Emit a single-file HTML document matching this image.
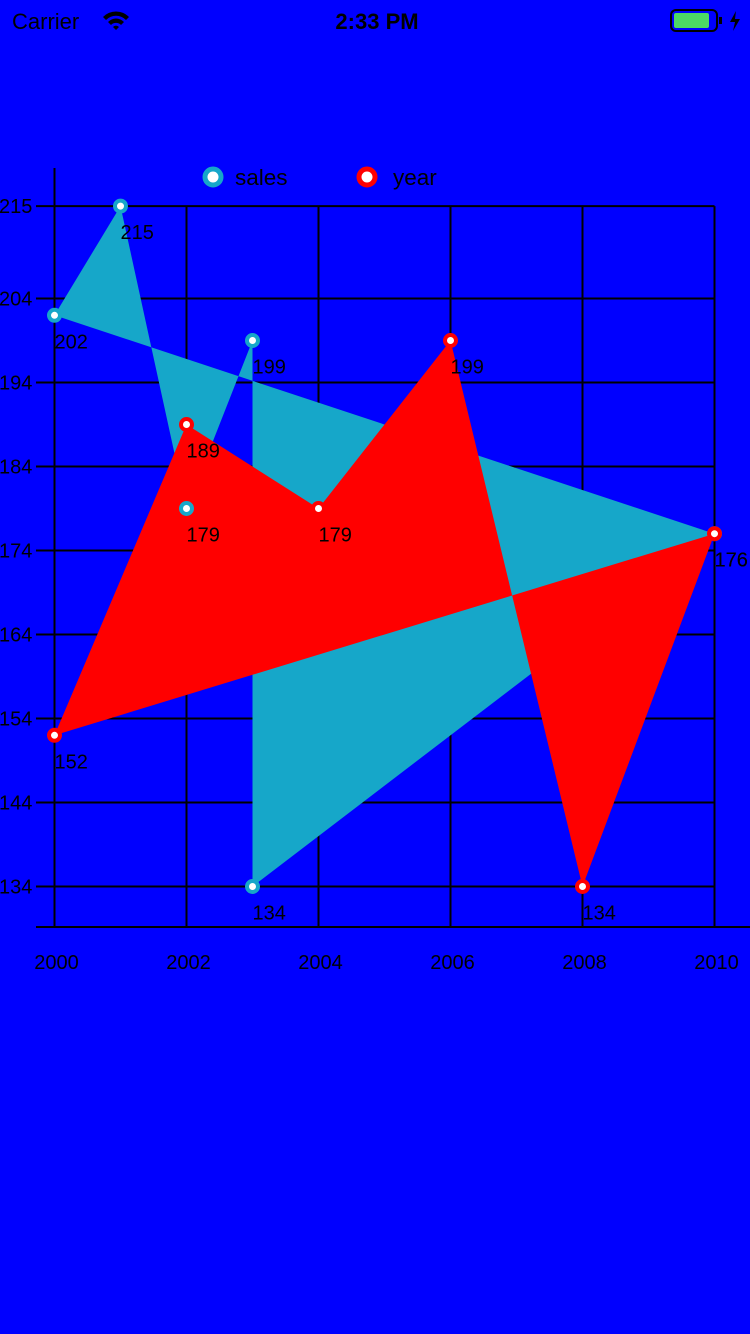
<!DOCTYPE html>
<html><head><meta charset="utf-8">
<style>
html,body{margin:0;padding:0;background:#0000ff;width:750px;height:1334px;overflow:hidden;font-family:"Liberation Sans",sans-serif;}
svg{position:absolute;left:0;top:0;}
</style></head>
<body>
<svg id="c" width="750" height="1334">
  <g>
    <text x="12" y="29" font-size="22" fill="#000">Carrier</text>
    <path d="M103 17 a18 18 0 0 1 26 0 l-3 3 a14 14 0 0 0 -20 0z M108 22 a11 11 0 0 1 16 0 l-3 3 a7 7 0 0 0 -10 0z M113 27 l3 3 3 -3 a4 4 0 0 0 -6 0z" fill="#000"/>
    <text x="377" y="29" font-size="22" font-weight="bold" text-anchor="middle" fill="#000">2:33 PM</text>
    <rect x="671" y="10" width="46" height="21" rx="5" fill="none" stroke="#000" stroke-width="2"/>
    <rect x="674" y="13" width="35" height="15" rx="2" fill="#4cd964"/>
    <rect x="719" y="17" width="3" height="7" fill="#000"/>
    <path d="M736 11 l-6 11 h5 l-2 9 7 -12 h-5z" fill="#000"/>
  </g>
  <g id="grid"></g>
  <g id="areas"></g>
  <g id="marks"></g>
  <g id="legend">
    <circle cx="213" cy="177" r="8" fill="#fff" stroke="#16a7c9" stroke-width="5"/>
    <text x="235" y="185" font-size="22.5" fill="#000">sales</text>
    <circle cx="367" cy="177" r="8" fill="#fff" stroke="#ff0000" stroke-width="5"/>
    <text x="393" y="185" font-size="22.5" fill="#000">year</text>
  </g>
</svg>
<script>
const xTicks = [2000,2002,2004,2006,2008,2010];
const yTicks = [134,144,154,164,174,184,194,204,215];
const salesX = [2000,2001,2002,2003,2003,2010];
const salesY = [202,215,179,199,134,176];
const yearX = [2000,2002,2004,2006,2008,2010];
const yearY = [152,189,179,199,134,176];

const NS='http://www.w3.org/2000/svg';
function X(v){return 54.5+(v-2000)*66;}
function Y(v){return 886.5-(v-134)*8.4;}
function mk(tag,attrs,parent){const e=document.createElementNS(NS,tag);for(const k in attrs)e.setAttribute(k,attrs[k]);parent.appendChild(e);return e;}
const grid=document.getElementById('grid');
yTicks.forEach(t=>{
  const l=mk('line',{x1:36,x2:714.5,y1:Y(t),y2:Y(t),stroke:'#000','stroke-width':2},grid);
  
  
  const tx=mk('text',{x:-1,y:Y(t)+7,'font-size':20,fill:'#000'},grid);
  tx.textContent=t;
  
  
});
xTicks.forEach(t=>{
  const l=mk('line',{x1:X(t),x2:X(t),y1:Y(215),y2:927,stroke:'#000','stroke-width':2},grid);
  
  
  const tx=mk('text',{x:X(t)+2,y:969,'font-size':20,fill:'#000','text-anchor':'middle'},grid);
  tx.textContent=t;
  
  
});
const ya=mk('line',{x1:54.5,x2:54.5,y1:168,y2:927,stroke:'#000','stroke-width':2},grid);


const xa=mk('line',{x1:36,x2:750,y1:927,y2:927,stroke:'#000','stroke-width':2},grid);



const areas=document.getElementById('areas');
const marks=document.getElementById('marks');
function area(xs,ys,color,name){
  const pts=xs.map((x,i)=>X(x)+','+Y(ys[i])).join(' ');
  const p=mk('polygon',{points:pts,fill:color},areas);
  
  
}
function points(xs,ys,color,name){
  xs.forEach((x,i)=>{
    const c=mk('circle',{cx:X(x),cy:Y(ys[i]),r:5.5,fill:'#fff',stroke:color,'stroke-width':4},marks);
    
    
    const t=mk('text',{x:X(x),y:Y(ys[i])+33,'font-size':20,fill:'#000'},marks);
    t.textContent=ys[i];
    
    
  });
}
area(salesX,salesY,'#16a7c9','sales');
area(yearX,yearY,'#ff0000','year');
points(salesX,salesY,'#16a7c9','sales');
points(yearX,yearY,'#ff0000','year');
</script>
</body></html>
